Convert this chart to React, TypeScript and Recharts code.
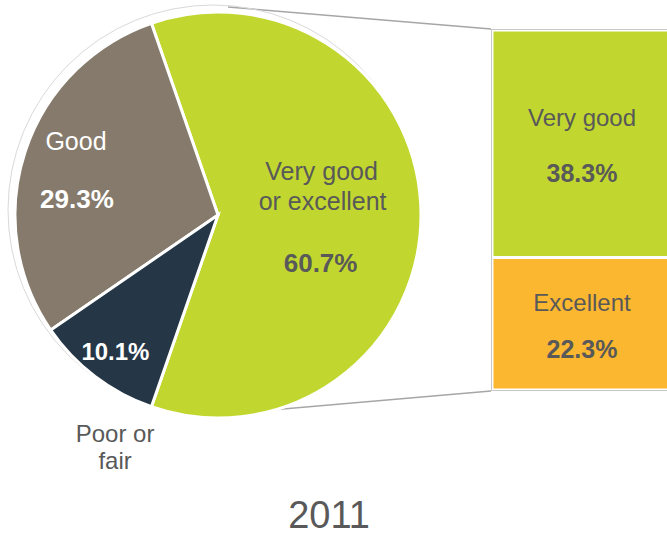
import { PieChart, Pie, Cell, BarChart, Bar, XAxis, YAxis, LabelList, Customized } from "recharts";

// pie slices, 2011
const sliceNames = ["Very good or excellent", "Good", "Poor or fair"];
const sliceValues = [60.7, 29.3, 10.1];
const sliceColors = ["#C1D72F", "#857A6B", "#253746"];

// breakdown of the big slice
const boxNames = ["Excellent", "Very good"];
const boxValues = [22.3, 38.3];
const boxColors = ["#FBB72F", "#C1D72F"];

const yearLabel = "2011";

const pieData = sliceNames.map((name, i) => ({ name, value: sliceValues[i] }));
const boxData = [
  boxNames.reduce((row: any, n, i) => ({ ...row, [n]: boxValues[i] }), { name: yearLabel }),
];

const total = sliceValues.reduce((a, b) => a + b, 0);
const half = (sliceValues[0] / total) * 180;
const START = -half;
const END = 360 - half;

const CX = 213;
const CY = 210;
const R = 203;
const BOX_X = 491;
const BOX_TOP = 29;
const BOX_BOTTOM = 391;

const FONT = "'Liberation Sans', Arial, sans-serif";
const GRAY = "#595959";

const RAD = Math.PI / 180;

const pieLabel = (p: any) => {
  const { cx, cy, midAngle, outerRadius, index } = p;
  const pt = (f: number) => ({
    x: cx + outerRadius * f * Math.cos(-midAngle * RAD),
    y: cy + outerRadius * f * Math.sin(-midAngle * RAD),
  });
  const val = sliceValues[index].toFixed(1) + "%";
  if (index === 0) {
    const c = pt(0.53);
    return (
      <g fontFamily={FONT} fill={GRAY} textAnchor="middle">
        <text x={c.x - 4} y={c.y - 35} fontSize={25}>Very good</text>
        <text x={c.x - 3} y={c.y - 5} fontSize={25}>or excellent</text>
        <text x={c.x - 5} y={c.y + 57} fontSize={26} fontWeight="bold">{val}</text>
      </g>
    );
  }
  if (index === 1) {
    const c = pt(0.7);
    return (
      <g fontFamily={FONT} fill="#fff" textAnchor="middle">
        <text x={c.x - 7} y={c.y - 21} fontSize={25}>Good</text>
        <text x={c.x - 6} y={c.y + 37} fontSize={26} fontWeight="bold">{val}</text>
      </g>
    );
  }
  const c = pt(0.85);
  const o = pt(1.08);
  return (
    <g fontFamily={FONT} textAnchor="middle">
      <text x={c.x + 2} y={c.y + 8} fontSize={24} fontWeight="bold" fill="#fff">{val}</text>
      <text x={o.x + 30} y={o.y + 53} fontSize={24} fill={GRAY}>Poor or</text>
      <text x={o.x + 30} y={o.y + 80} fontSize={24} fill={GRAY}>fair</text>
    </g>
  );
};

const boxLabel = (name: string) => (p: any) => {
  const { x, y, height, value } = p;
  const cx = x + 90;
  const cy = y + height / 2;
  const big = height > 180;
  return (
    <g fontFamily={FONT} fill={GRAY} textAnchor="middle">
      <text x={cx} y={big ? cy - 18 : cy - 13} fontSize={24}>{name}</text>
      <text x={cx} y={big ? cy + 38 : cy + 34} fontSize={25} fontWeight="bold">{value.toFixed(1)}%</text>
    </g>
  );
};

const Connectors = () => (
  <g stroke="#A6A6A6" strokeWidth={1.5} fill="none">
    <line x1={CX + 15} y1={CY - R} x2={BOX_X} y2={BOX_TOP} />
    <line x1={CX + 25} y1={CY + R} x2={BOX_X} y2={BOX_BOTTOM} />
  </g>
);

export default function App() {
  return (
    <div style={{ position: "fixed", left: 0, top: 0, width: 667, height: 537, background: "#fff", overflow: "hidden" }}>
      <div style={{ position: "absolute", left: 0, top: 0 }}>
        <PieChart width={667} height={537}>
          <Customized component={Connectors} />
          <Pie
            data={pieData}
            dataKey="value"
            nameKey="name"
            cx={CX}
            cy={CY}
            outerRadius={R}
            startAngle={START}
            endAngle={END}
            stroke="#fff"
            strokeWidth={3}
            label={pieLabel}
            labelLine={false}
            isAnimationActive={false}
          >
            {pieData.map((d, i) => (
              <Cell key={d.name} fill={sliceColors[i]} />
            ))}
          </Pie>
          <circle cx={CX} cy={CY} r={R + 2} fill="none" stroke="#D9D9D9" strokeWidth={1} />
          <text x={329} y={528} textAnchor="middle" fontFamily={FONT} fontSize={38} fill={GRAY}>
            {yearLabel}
          </text>
        </PieChart>
      </div>
      <div
        style={{
          position: "absolute",
          left: BOX_X,
          top: BOX_TOP,
          width: 200,
          height: BOX_BOTTOM - BOX_TOP,
          border: "1px solid #C8C8C8",
          boxSizing: "border-box",
          background: "#fff",
        }}
      >
        <BarChart
          width={198}
          height={BOX_BOTTOM - BOX_TOP - 2}
          data={boxData}
          margin={{ top: 0, right: 0, bottom: 0, left: 0 }}
          barCategoryGap={0}
        >
          <XAxis dataKey="name" hide />
          <YAxis hide domain={[0, boxValues[0] + boxValues[1]]} />
          {boxNames.map((n, i) => (
            <Bar key={n} dataKey={n} stackId="a" fill={boxColors[i]} stroke="#fff" strokeWidth={3} isAnimationActive={false}>
              <LabelList dataKey={n} content={boxLabel(n)} />
            </Bar>
          ))}
        </BarChart>
      </div>
    </div>
  );
}
